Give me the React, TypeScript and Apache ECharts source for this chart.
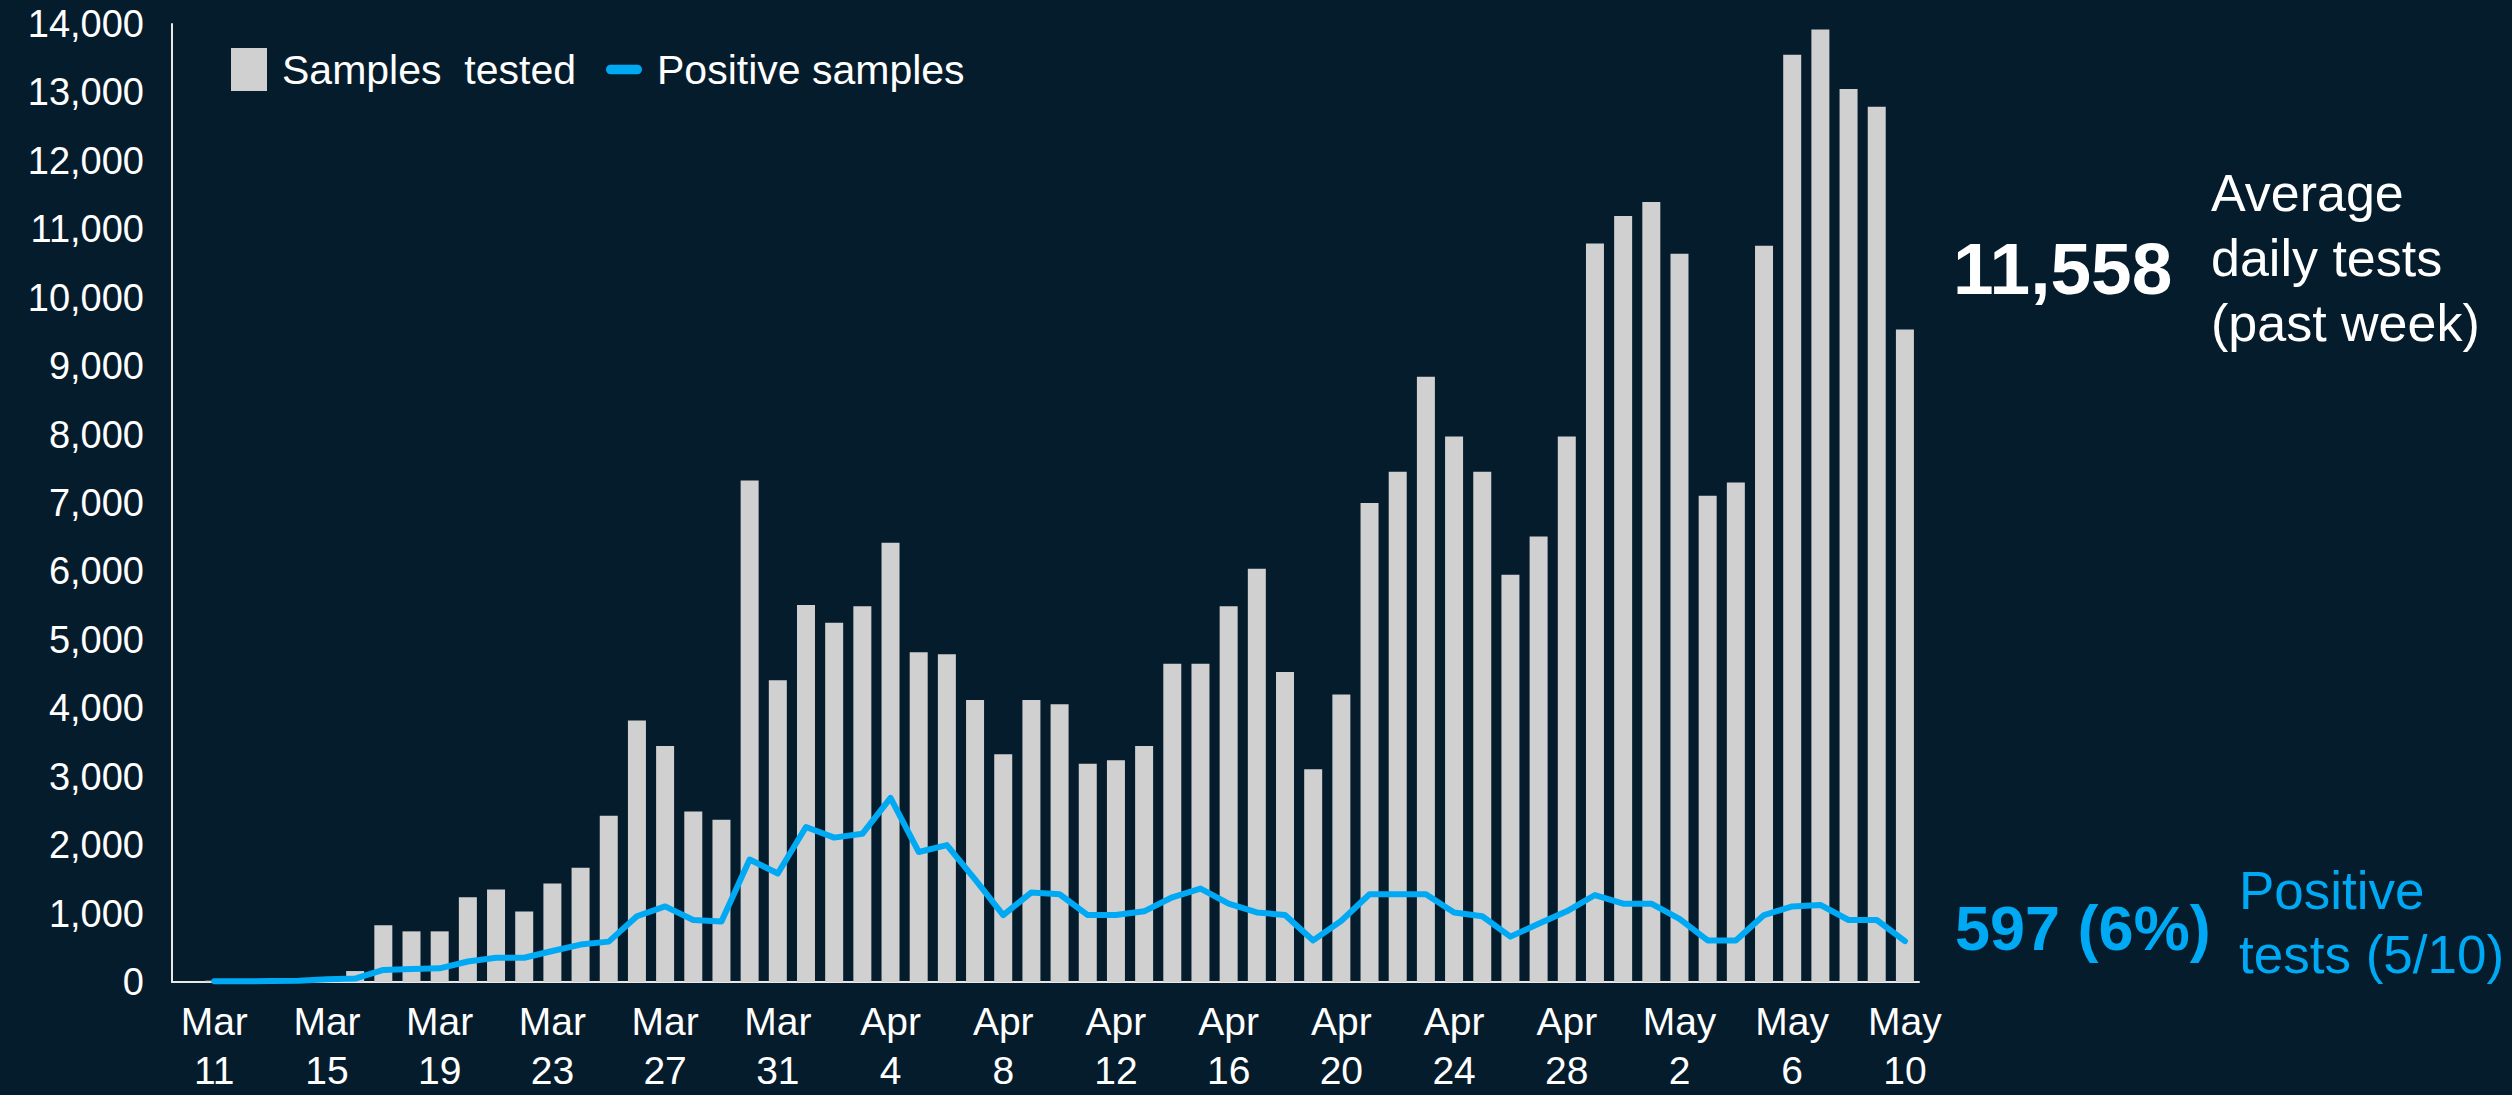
import React, { useEffect, useRef } from "react";
import * as echarts from "echarts";

const dateLabels = [
  "Mar\n11", "Mar\n12", "Mar\n13", "Mar\n14", "Mar\n15", "Mar\n16", "Mar\n17", "Mar\n18", "Mar\n19", "Mar\n20",
  "Mar\n21", "Mar\n22", "Mar\n23", "Mar\n24", "Mar\n25", "Mar\n26", "Mar\n27", "Mar\n28", "Mar\n29", "Mar\n30",
  "Mar\n31", "Apr\n1", "Apr\n2", "Apr\n3", "Apr\n4", "Apr\n5", "Apr\n6", "Apr\n7", "Apr\n8", "Apr\n9",
  "Apr\n10", "Apr\n11", "Apr\n12", "Apr\n13", "Apr\n14", "Apr\n15", "Apr\n16", "Apr\n17", "Apr\n18", "Apr\n19",
  "Apr\n20", "Apr\n21", "Apr\n22", "Apr\n23", "Apr\n24", "Apr\n25", "Apr\n26", "Apr\n27", "Apr\n28", "Apr\n29",
  "Apr\n30", "May\n1", "May\n2", "May\n3", "May\n4", "May\n5", "May\n6", "May\n7", "May\n8", "May\n9",
  "May\n10",
];

const samplesTested = [
  20, 25, 30, 40, 70, 160, 830, 740, 740, 1240,
  1350, 1030, 1440, 1670, 2430, 3820, 3450, 2490, 2370, 7330,
  4410, 5510, 5250, 5490, 6420, 4820, 4790, 4120, 3330, 4120,
  4060, 3190, 3240, 3450, 4650, 4650, 5490, 6040, 4530, 3110,
  4200, 7000, 7455, 8844, 7973, 7455, 5950, 6510, 7973, 10793,
  11195, 11398, 10643, 7107, 7300, 10760, 13550, 13920, 13050, 12790,
  9536,
];

const positiveSamples = [
  10, 10, 15, 20, 40, 50, 177, 190, 200, 300,
  354, 354, 453, 547, 590, 961, 1105, 906, 884, 1790,
  1586, 2265, 2110, 2166, 2690, 1900, 2000, 1500, 978, 1309,
  1282, 978, 978, 1033, 1238, 1365, 1144, 1017, 978, 608,
  895, 1282, 1282, 1282, 1017, 961, 663, 851, 1033, 1271,
  1144, 1144, 923, 608, 608, 978, 1105, 1127, 906, 906,
  597,
];

const yTicks = { min: 0, max: 14000, interval: 1000 };

const avgTestsValue = "11,558";
const avgTestsLabel = "Average\ndaily tests\n(past week)";
const positiveValue = "597 (6%)";
const positiveLabel = "Positive\ntests (5/10)";

const BG = "#051c2c";
const GREY = "#d0d0d0";
const BLUE = "#00a9f4";
const FONT = '"Liberation Sans", Arial, sans-serif';

export default function App() {
  const ref = useRef<HTMLDivElement>(null);

  useEffect(() => {
    if (!ref.current) return;
    const chart = echarts.init(ref.current, null, { renderer: "svg" });
    const cats = [""].concat(dateLabels);
    chart.setOption({
      animation: false,
      backgroundColor: BG,
      textStyle: { fontFamily: FONT },
      grid: { left: 172, right: 593, top: 24, bottom: 107, containLabel: false },
      legend: {
        left: 226,
        top: 43,
        itemWidth: 36,
        itemHeight: 43,
        itemGap: 30,
        textStyle: { color: "#ffffff", fontSize: 41, fontFamily: FONT, padding: [0, 0, 0, 10] },
        data: [
          { name: "Samples  tested", icon: "rect" },
          {
            name: "Positive samples",
            icon: "path://M4,0 H26 A4,4 0 0 1 26,8 H4 A4,4 0 0 1 4,0 Z",
          },
        ],
      },
      xAxis: {
        type: "category",
        data: cats,
        boundaryGap: true,
        axisLine: { show: true, lineStyle: { color: "#e8e8e8", width: 2 } },
        axisTick: { show: false },
        axisLabel: {
          interval: (index: number) => index % 4 === 1,
          color: "#ffffff",
          fontSize: 39,
          lineHeight: 49,
          margin: 15,
          fontFamily: FONT,
        },
      },
      yAxis: {
        type: "value",
        min: yTicks.min,
        max: yTicks.max,
        interval: yTicks.interval,
        axisLine: { show: true, lineStyle: { color: "#e8e8e8", width: 2 } },
        axisTick: { show: false },
        splitLine: { show: false },
        axisLabel: {
          color: "#ffffff",
          fontSize: 38,
          margin: 28,
          fontFamily: FONT,
          formatter: (v: number) => v.toLocaleString("en-US"),
        },
      },
      series: [
        {
          name: "Samples  tested",
          type: "bar",
          data: [null].concat(samplesTested as any),
          barWidth: 18,
          itemStyle: { color: GREY },
          z: 2,
        },
        {
          name: "Positive samples",
          type: "line",
          data: [null].concat(positiveSamples as any),
          symbol: "none",
          lineStyle: { color: BLUE, width: 6, join: "round", cap: "round" },
          itemStyle: { color: BLUE },
          z: 3,
        },
      ],
      graphic: [
        {
          type: "text",
          left: 1953,
          top: 232,
          style: {
            text: avgTestsValue,
            fill: "#ffffff",
            fontSize: 73,
            fontWeight: "bold",
            fontFamily: FONT,
          },
        },
        {
          type: "text",
          left: 2211,
          top: 160,
          style: {
            text: avgTestsLabel,
            fill: "#ffffff",
            fontSize: 52,
            lineHeight: 65,
            fontFamily: FONT,
          },
        },
        {
          type: "text",
          left: 1955,
          top: 896,
          style: {
            text: positiveValue,
            fill: BLUE,
            fontSize: 63,
            fontWeight: "bold",
            fontFamily: FONT,
          },
        },
        {
          type: "text",
          left: 2239,
          top: 858,
          style: {
            text: positiveLabel,
            fill: BLUE,
            fontSize: 53,
            lineHeight: 64,
            fontFamily: FONT,
          },
        },
      ],
    });
    return () => chart.dispose();
  }, []);

  return (
    <div
      ref={ref}
      style={{ position: "fixed", left: 0, top: 0, width: 2512, height: 1095 }}
    />
  );
}
